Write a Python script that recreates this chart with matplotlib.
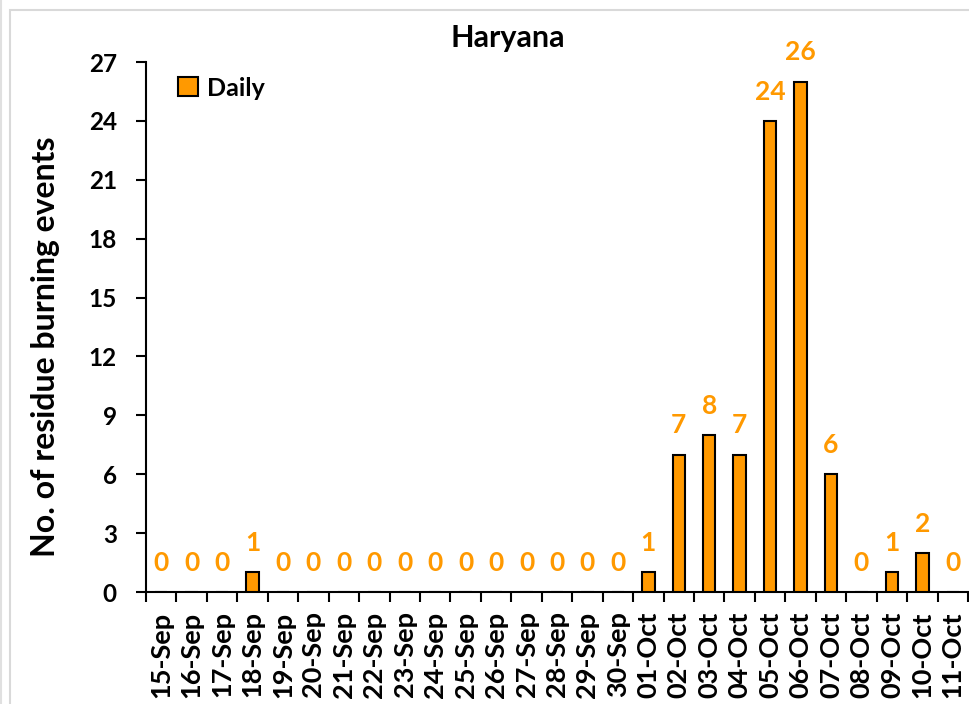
import numpy as np
import matplotlib.pyplot as plt
from matplotlib.patches import Rectangle
from matplotlib.lines import Line2D
plt.rcParams['font.family'] = ['Lato', 'DejaVu Sans']

dates = ['15-Sep', '16-Sep', '17-Sep', '18-Sep', '19-Sep', '20-Sep', '21-Sep', '22-Sep', '23-Sep',
         '24-Sep', '25-Sep', '26-Sep', '27-Sep', '28-Sep', '29-Sep', '30-Sep', '01-Oct', '02-Oct',
         '03-Oct', '04-Oct', '05-Oct', '06-Oct', '07-Oct', '08-Oct', '09-Oct', '10-Oct', '11-Oct']
daily = [0, 0, 0, 1, 0, 0, 0, 0, 0, 0, 0, 0, 0, 0, 0, 0, 1, 7, 8, 7, 24, 26, 6, 0, 1, 2, 0]

orange = '#FF9900'
W, H = 970, 704

fig = plt.figure(figsize=(W/100, H/100), dpi=100)
# light frame of the chart area (cropped at right and bottom)
fig.patches.append(Rectangle((10/W, -0.1), 1.2, 1 - 10/H + 0.1, transform=fig.transFigure,
                             fill=False, edgecolor='#d9d9d9', linewidth=1.5))
fig.lines.append(Line2D([1.5/W, 1.5/W], [0, 1], transform=fig.transFigure, color='#e0e0e0', lw=1.5))

ax = fig.add_axes([146/W, 1 - 592/H, (968 - 146)/W, (592 - 62)/H])

x = np.arange(len(dates))
ax.bar(x, daily, width=0.41, color=orange, edgecolor='black', linewidth=1.5, label='Daily', zorder=3)
for xi, v in zip(x, daily):
    ax.annotate(str(v), xy=(xi, v), xytext=(0, 21), textcoords='offset points',
                ha='center', va='center', color=orange, fontsize=19, fontweight='bold')

ax.set_xlim(-0.5, len(dates) - 0.5)
ax.set_ylim(0, 27)
ax.set_yticks(np.arange(0, 28, 3))
ax.set_xticks(x)
ax.set_xticklabels(dates, rotation=90, fontsize=19.5, fontweight='bold')
ax.set_xticks(np.arange(-0.5, len(dates), 1), minor=True)
ax.tick_params(axis='x', which='major', length=0, pad=14)
ax.tick_params(axis='x', which='minor', length=7, width=1.5, direction='out')
ax.tick_params(axis='y', length=7, width=1.5, direction='out', labelsize=17.5, pad=14)
for lbl in ax.get_yticklabels():
    lbl.set_fontweight('bold')
ax.spines['top'].set_visible(False)
ax.spines['right'].set_visible(False)
ax.spines['left'].set_linewidth(1.5)
ax.spines['bottom'].set_linewidth(1.5)

ax.set_ylabel('No. of residue burning events', fontsize=23, fontweight='bold')
ax.yaxis.set_label_coords(-0.105, 0.462)
fig.text(508/W, 1 - 38/H, 'Haryana', ha='center', va='center', fontsize=22, fontweight='bold')
fig.legend(*ax.get_legend_handles_labels(), loc='center left', bbox_to_anchor=(178/W, 1 - 88/H),
           frameon=False, borderpad=0, borderaxespad=0, prop={'size': 18, 'weight': 'bold'},
           handlelength=0.8, handleheight=0.8, handletextpad=0.35)

fig.savefig('out.png', dpi=100)
